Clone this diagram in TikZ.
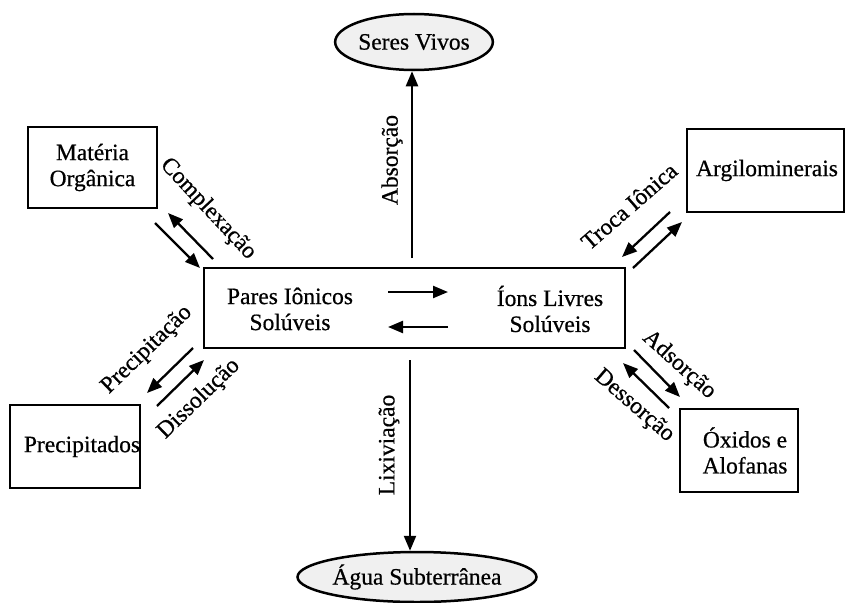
\documentclass[tikz,border=0pt]{standalone}
\usepackage{fontspec}
\setmainfont{Liberation Serif}[UprightFeatures={FakeBold=0.6}]
\usetikzlibrary{arrows.meta,shapes.geometric}
\begin{document}
\begin{tikzpicture}[x=1pt,y=-1pt,
  font=\fontsize{23.5}{26}\selectfont,
  box/.style={draw,line width=2.5pt,inner sep=0pt,align=center},
  oval/.style={draw,ellipse,line width=2.5pt,inner sep=0pt,fill=gray!12},
  arr/.style={line width=2.3pt,-{Triangle[length=15pt,width=12pt]}},
  lbl/.style={inner sep=0pt}]
\useasboundingbox (0,0) rectangle (845,602);
% boxes
\node[box,minimum width=421pt,minimum height=80pt] (c) at (414.5,308) {};
\node[lbl,align=center] (pi) at (290,309) {Pares Iônicos\\Solúveis};
\node[lbl,align=center] (il) at (550,309) {Íons Livres\\Solúveis};
\node[box,minimum width=129pt,minimum height=81pt] (mo) at (92.5,167.5) {Matéria\\Orgânica};
\node[box,minimum width=157pt,minimum height=83pt] (ar) at (765.5,170.5) {\hspace*{3pt}Argilominerais};
\node[box,minimum width=130pt,minimum height=83pt] (pr) at (75,446.5) {\hspace*{14pt}Precipitados};
\node[box,minimum width=118pt,minimum height=83pt] (ox) at (739,450.5) {\hspace*{12pt}Óxidos e\\\hspace*{12pt}Alofanas};
\node[oval,minimum width=145pt,minimum height=56pt] (sv) at (414,42) {Seres Vivos};
\node[oval,minimum width=212pt,minimum height=50pt] (ag) at (417,577) {Água Subterrânea};
% inner arrows
\coordinate (i1a) at (388,292); \coordinate (i1b) at (448,292);
\coordinate (i2a) at (448,327); \coordinate (i2b) at (388,327);
\draw[arr] (i1a) -- (i1b);
\draw[arr] (i2a) -- (i2b);
% vertical arrows
\coordinate (absS) at (412,258);
\draw[arr] (absS) -- (absS |- sv.south);
\coordinate (lixS) at (410,360);
\draw[arr] (lixS) -- (lixS |- ag.north);
% Materia Organica
\coordinate (m1a) at (155,223); \coordinate (m1b) at (200,268);
\coordinate (m2a) at (213,259); \coordinate (m2b) at (168,213);
\draw[arr] (m1a) -- (m1b);
\draw[arr] (m2a) -- (m2b);
% Argilominerais
\coordinate (a1a) at (670,212); \coordinate (a1b) at (622,257);
\coordinate (a2a) at (633,268); \coordinate (a2b) at (682,222);
\draw[arr] (a1a) -- (a1b);
\draw[arr] (a2a) -- (a2b);
% Precipitados
\coordinate (p1a) at (193,348); \coordinate (p1b) at (147,393);
\coordinate (p2a) at (157,406); \coordinate (p2b) at (204,360);
\draw[arr] (p1a) -- (p1b);
\draw[arr] (p2a) -- (p2b);
% Oxidos
\coordinate (o1a) at (634,350); \coordinate (o1b) at (680,397);
\coordinate (o2a) at (669,408); \coordinate (o2b) at (623,363);
\draw[arr] (o1a) -- (o1b);
\draw[arr] (o2a) -- (o2b);
% labels
\node[lbl,rotate=-47] (lc) at (208,209) {Complexação};
\node[lbl,rotate=41] (lt) at (629,206) {Troca Iônica};
\node[lbl,rotate=44] (lp) at (147,350) {Precipitação};
\node[lbl,rotate=44] (ld) at (199,399) {Dissolução};
\node[lbl,rotate=-42] (la) at (679,365) {Adsorção};
\node[lbl,rotate=-41] (lde) at (634,406) {Dessorção};
\node[lbl,rotate=90] (lab) at (392,160) {Absorção};
\node[lbl,rotate=90] (llx) at (389,445) {Lixiviação};
\end{tikzpicture}
\end{document}
